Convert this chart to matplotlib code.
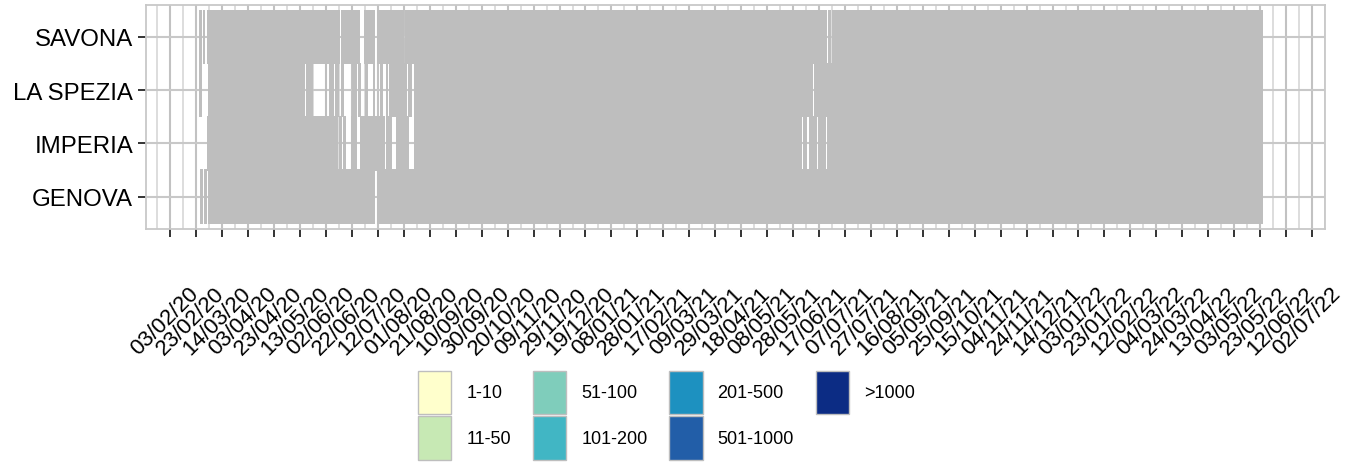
import numpy as np
import pandas as pd
import matplotlib
matplotlib.use("Agg")
import matplotlib.pyplot as plt
import matplotlib.dates as mdates
from matplotlib.patches import Patch
from matplotlib.transforms import ScaledTranslation

plt.rcParams['font.family'] = ['Liberation Sans', 'DejaVu Sans']

# ---------------- data ----------------
provinces = ['GENOVA', 'IMPERIA', 'LA SPEZIA', 'SAVONA']
categories = ['1-10', '11-50', '51-100', '101-200', '201-500', '501-1000', '>1000']
palette = ['#FFFFCC', '#C7E9B4', '#7FCDBB', '#41B6C4', '#1D91C0', '#225EA8', '#0C2C84']

first_day = {'GENOVA': '2020-02-27', 'IMPERIA': '2020-03-03',
             'LA SPEZIA': '2020-02-26', 'SAVONA': '2020-02-26'}
last_day = '2022-05-24'

# start dates of the periods over which the daily class was read
period_starts = ['2020-02-26', '2020-03-04', '2020-03-27', '2020-04-20', '2020-05-14',
                 '2020-06-06', '2020-06-29', '2020-07-22', '2020-08-14', '2020-09-06',
                 '2020-09-30', '2020-10-23', '2020-11-15', '2020-12-08', '2020-12-31',
                 '2021-01-24', '2021-02-16', '2021-03-11', '2021-04-04', '2021-04-27',
                 '2021-05-20', '2021-06-12', '2021-07-06', '2021-07-29', '2021-08-21',
                 '2021-09-13', '2021-10-07', '2021-10-30', '2021-11-22', '2021-12-15',
                 '2022-01-08', '2022-01-31', '2022-02-23', '2022-03-18', '2022-04-11',
                 '2022-05-04']

# class index (1 = '1-10' ... 7 = '>1000') for each period
level_genova = [1, 3, 3, 4, 2, 1, 1, 1, 2, 2, 5, 6, 5, 3, 4, 4, 3, 5, 4, 2, 2, 1, 2, 3, 3, 2,
                2, 4, 4, 6, 7, 6, 5, 6, 5, 4]
level_imperia = [1, 1, 2, 1, 1, 1, 1, 1, 1, 1, 1, 5, 3, 2, 3, 3, 3, 3, 2, 2, 1, 1, 1, 2, 2, 2,
                 2, 2, 4, 6, 6, 5, 2, 4, 4, 2]
level_laspezia = [1, 2, 2, 1, 1, 1, 1, 1, 2, 2, 1, 5, 3, 2, 2, 2, 2, 3, 2, 2, 1, 1, 2, 2, 2, 2,
                  2, 3, 3, 5, 6, 5, 2, 5, 4, 2]
level_savona = [1, 2, 2, 2, 1, 1, 1, 1, 1, 1, 2, 5, 3, 3, 3, 3, 3, 4, 3, 2, 2, 1, 1, 2, 2, 1,
                1, 2, 3, 5, 6, 5, 3, 4, 4, 2]

# days with no new cases (no tile drawn): (from, to) inclusive
zero_genova = [('2020-02-28', '2020-02-29'), ('2020-03-02', '2020-03-03'),
               ('2020-07-10', '2020-07-11')]
zero_imperia = [('2020-06-11', '2020-06-12'), ('2020-06-14', '2020-06-15'),
                ('2020-06-17', '2020-06-21'), ('2020-06-26', '2020-06-28'),
                ('2020-07-17', '2020-07-18'), ('2020-07-23', '2020-07-26'),
                ('2020-08-05', '2020-08-09'), ('2021-06-04', '2021-06-05'),
                ('2021-06-08', '2021-06-09'), ('2021-06-15', '2021-06-16'),
                ('2021-06-22', '2021-06-23')]
zero_laspezia = [('2020-02-27', '2020-03-03'), ('2020-05-17', '2020-05-18'),
                 ('2020-05-23', '2020-06-01'), ('2020-06-03', '2020-06-04'),
                 ('2020-06-08', '2020-06-09'), ('2020-06-12', '2020-06-14'),
                 ('2020-06-16', '2020-06-22'), ('2020-06-26', '2020-06-27'),
                 ('2020-06-29', '2020-07-02'), ('2020-07-04', '2020-07-08'),
                 ('2020-07-10', '2020-07-14'), ('2020-07-16', '2020-07-18'),
                 ('2020-07-20', '2020-07-21'), ('2020-08-03', '2020-08-04'),
                 ('2020-08-07', '2020-08-09'), ('2021-06-12', '2021-06-13')]
zero_savona = [('2020-02-27', '2020-02-28'), ('2020-03-01', '2020-03-02'),
               ('2020-06-13', '2020-06-14'), ('2020-06-28', '2020-07-01'),
               ('2020-07-10', '2020-07-11'), ('2020-08-01', '2020-08-02'),
               ('2021-06-23', '2021-06-24'), ('2021-06-26', '2021-06-27')]

levels = {'GENOVA': level_genova, 'IMPERIA': level_imperia,
          'LA SPEZIA': level_laspezia, 'SAVONA': level_savona}
zeros = {'GENOVA': zero_genova, 'IMPERIA': zero_imperia,
         'LA SPEZIA': zero_laspezia, 'SAVONA': zero_savona}

tick_start, tick_end = '2020-02-03', '2022-07-02'

# ---------------- build tiles ----------------
pstarts = pd.to_datetime(period_starts).values
tiles = {}
for p in provinces:
    days = pd.date_range(first_day[p], last_day, freq='D')
    keep = np.ones(len(days), bool)
    for a, b in zeros[p]:
        keep &= ~((days >= pd.Timestamp(a)) & (days <= pd.Timestamp(b)))
    days = days[keep]
    idx = np.searchsorted(pstarts, days.values, side='right') - 1
    lv = np.asarray(levels[p])[idx]
    tiles[p] = (days, lv)

# ---------------- figure ----------------
W, H = 1351, 464
fig = plt.figure(figsize=(W / 100, H / 100), dpi=100)
ax = fig.add_axes([146.4 / W, 1 - 229.5 / H, (1325 - 146.4) / W, (229.5 - 6) / H])

tile_edge = '#BEBEBE'
all_x = []
for i, p in enumerate(provinces):
    days, lv = tiles[p]
    x = mdates.date2num(days.to_pydatetime())
    all_x.append(x)
    ax.bar(x, 1.0, width=1.0, bottom=i + 1 - 0.5, align='center',
           color=[palette[l - 1] for l in lv], edgecolor=tile_edge,
           linewidth=0.36, antialiased=False, snap=False, zorder=2)

all_x = np.concatenate(all_x)
lo, hi = all_x.min() - 0.5, all_x.max() + 0.5
rng = hi - lo
ax.set_xlim(lo - 0.05 * rng, hi + 0.05 * rng)
ax.set_ylim(0.4, len(provinces) + 0.6)

major = pd.date_range(tick_start, tick_end, freq='20D')
minor = pd.date_range(pd.Timestamp(tick_start) - pd.Timedelta(days=10),
                      pd.Timestamp(tick_end) + pd.Timedelta(days=10), freq='20D')
ax.set_xticks(mdates.date2num(major.to_pydatetime()))
ax.set_xticklabels([d.strftime('%d/%m/%y') for d in major])
ax.set_xticks(mdates.date2num(minor.to_pydatetime()), minor=True)
ax.set_yticks(range(1, len(provinces) + 1))
ax.set_yticklabels(provinces)

ax.set_axisbelow(True)
ax.grid(which='major', axis='x', color='#C2C2C2', linewidth=1.5)
ax.grid(which='minor', axis='x', color='#D3D3D3', linewidth=1.1)
ax.grid(which='major', axis='y', color='#C8C8C8', linewidth=1.5)
for s in ax.spines.values():
    s.set_color('#C8C8C8')
    s.set_linewidth(1.3)

ax.tick_params(axis='x', which='major', length=5.5, width=1.4, color='#333333',
               labelsize=16, pad=61, labelrotation=45, labelcolor='black')
ax.tick_params(axis='x', which='minor', length=0)
ax.tick_params(axis='y', length=5.5, width=1.4, color='#333333',
               labelsize=17.3, pad=4, labelcolor='black')
off = ScaledTranslation(-5.5 / 100, 0, fig.dpi_scale_trans)
for lab in ax.get_xticklabels():
    lab.set_ha('center')
    lab.set_va('center')
    lab.set_transform(lab.get_transform() + off)

handles = [Patch(facecolor=c, edgecolor='#BEBEBE', linewidth=1.0) for c in palette]
fs = 13
leg = fig.legend(handles, categories, loc='upper left',
                 bbox_to_anchor=(418.3 / W, 1 - 371.7 / H), bbox_transform=fig.transFigure,
                 ncol=4, frameon=False, fontsize=fs, borderpad=0, borderaxespad=0,
                 handlelength=33 / 18, handleheight=3.30, labelspacing=0.145,
                 handletextpad=0.83, columnspacing=1.22)

fig.savefig('out.png', dpi=100)
